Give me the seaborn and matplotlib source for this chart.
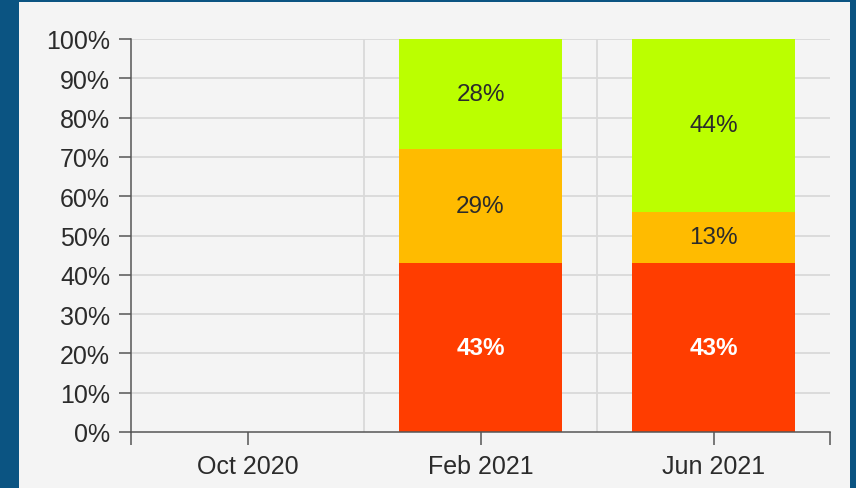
import numpy as np
import pandas as pd
import matplotlib
matplotlib.use('Agg')
from matplotlib import pyplot as plt
from matplotlib.patches import Rectangle
import seaborn as sns

# Chart data (percent of responses per survey round)
categories = ['Oct 2020', 'Feb 2021', 'Jun 2021']
red_vals = [0, 43, 43]
orange_vals = [0, 29, 13]
green_vals = [0, 28, 44]
y_ticks = list(range(0, 101, 10))

sns.set_theme(style='white')
plt.rcParams['font.family'] = ['Liberation Sans', 'DejaVu Sans']

W, H = 856, 489
fig = plt.figure(figsize=(W / 100, H / 100), dpi=100, facecolor='#0b5482')
# light inner panel, kept behind the axes
fig.add_artist(Rectangle((19 / W, 0), (850 - 19) / W, (H - 3) / H,
                         transform=fig.transFigure, facecolor='#f4f4f4',
                         edgecolor='none', zorder=-10))
ax = fig.add_axes([131 / W, 1 - 433 / H, (830 - 131) / W, (433 - 40) / H])
ax.set_facecolor('#f4f4f4')

df = pd.DataFrame({'period': categories, 'red': red_vals,
                   'orange': orange_vals, 'green': green_vals})
df['top_orange'] = df['red'] + df['orange']
df['top_green'] = df['top_orange'] + df['green']

# stacked look: draw cumulative totals from the top layer down
layers = [('top_green', '#bbff00'), ('top_orange', '#ffbb00'), ('red', '#ff3d00')]
for col, color in layers:
    sns.barplot(data=df, x='period', y=col, order=categories, color=color,
                width=0.7, linewidth=0, saturation=1, ax=ax, zorder=3)

# segment labels
for i, row in df.iterrows():
    segs = [(0, row['red'], 'white', 'bold'),
            (row['red'], row['orange'], '#2b2b2b', 'normal'),
            (row['top_orange'], row['green'], '#2b2b2b', 'normal')]
    for base, val, tc, fw in segs:
        if val > 0:
            ax.text(i, base + val / 2, f'{val}%', ha='center', va='center',
                    fontsize=17.5, color=tc, fontweight=fw, zorder=5)

ax.set_xlim(-0.5, 2.5)
ax.set_ylim(0, 100)
ax.set_yticks(y_ticks)
ax.set_yticklabels([f'{t}%' for t in y_ticks])
ax.set_xticks(range(len(categories)))
ax.set_xticks([-0.5, 2.5], minor=True)
ax.set_xlabel('')
ax.set_ylabel('')

# grid lines
for t in y_ticks[1:]:
    ax.axhline(t, color='#d9d9d9', linewidth=1.3, zorder=1)
for xb in [0.5, 1.5]:
    ax.axvline(xb, color='#d9d9d9', linewidth=1.3, zorder=1)

for s in ['top', 'right']:
    ax.spines[s].set_visible(False)
for s in ['left', 'bottom']:
    ax.spines[s].set_color('#555555')
    ax.spines[s].set_linewidth(1.1)
    ax.spines[s].set_zorder(6)

ax.tick_params(axis='both', which='both', direction='out', length=9,
               width=1.1, color='#555555', labelsize=18, labelcolor='#2b2b2b')
ax.tick_params(axis='x', which='both', bottom=True, pad=7)
ax.tick_params(axis='y', left=True, pad=6)

fig.savefig('out.png', dpi=100, facecolor=fig.get_facecolor())
